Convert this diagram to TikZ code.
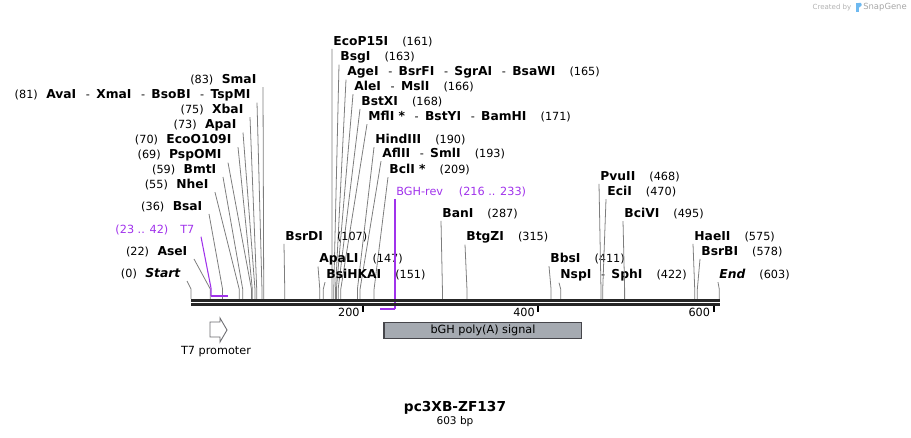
\documentclass[tikz,border=0pt]{standalone}
\usepackage{fontspec}
\setmainfont{DejaVu Sans}[ItalicFont={DejaVu Sans Oblique},BoldFont={DejaVu Sans Bold},BoldItalicFont={DejaVu Sans Bold Oblique}]
\definecolor{primerpurple}{RGB}{160,50,235}
\definecolor{sitegray}{RGB}{125,125,125}
\definecolor{featfill}{RGB}{165,170,177}
\definecolor{featedge}{RGB}{70,70,75}
\definecolor{logoblue}{RGB}{110,185,240}
\newcommand{\enzfont}{\fontsize{6.4}{8}\selectfont}
\newcommand{\enz}[1]{{\fontsize{7}{8}\selectfont\bfseries #1}}
\newcommand{\numgap}{\hspace{8pt}}
\newcommand{\lgap}{\hspace{4.8pt}}
\newcommand{\orsep}{\hspace{5.5pt}-\hspace{3.6pt}}
\tikzset{
  leftsite/.style={anchor=east, font=\enzfont, inner xsep=3.6pt, inner ysep=0.8pt},
  rightsite/.style={anchor=west, font=\enzfont, inner xsep=0.6pt, inner ysep=0.8pt},
  cutline/.style={sitegray, line width=0.45pt},
  primerline/.style={primerpurple, line width=0.6pt},
  primerbar/.style={primerpurple, line width=1.2pt},
  backbone/.style={line width=1.4pt, black!85},
  ticklbl/.style={font=\enzfont, anchor=east, inner sep=1pt},
}
\begin{document}
\begin{tikzpicture}[x=0.02cm, y=-0.02cm]
  \useasboundingbox (0,0) rectangle (911,438);
  % sites on the sequence: x = 191 + 0.876*bp
  \foreach \bp in {0,22,36,55,59,69,70,73,75,81,83,107,147,151,161,163,165,166,168,171,190,193,209,287,315,411,422,468,470,495,575,578,603} {
    \coordinate (s\bp) at ({191+0.876*\bp},299);
    \coordinate (k\bp) at ({191+0.876*\bp},289);
  }
  % enzymes left of the sequence start
  \foreach \bp/\lx/\ly/\txt in {
      83/263/80/{(83)\lgap\enz{SmaI}},
      81/257/95/{(81)\lgap\enz{AvaI}\orsep\enz{XmaI}\orsep\enz{BsoBI}\orsep\enz{TspMI}},
      75/250/110/{(75)\lgap\enz{XbaI}},
      73/243/125/{(73)\lgap\enz{ApaI}},
      70/238/140/{(70)\lgap\enz{EcoO109I}},
      69/228/155/{(69)\lgap\enz{PspOMI}},
      59/223/170/{(59)\lgap\enz{BmtI}},
      55/215/185/{(55)\lgap\enz{NheI}},
      36/209/207/{(36)\lgap\enz{BsaI}},
      22/194/252/{(22)\lgap\enz{AseI}},
      0/187/274/{(0)\lgap\enz{\itshape Start}}} {
    \node[leftsite] (e\bp) at (\lx,\ly) {\txt};
    \draw[cutline] (e\bp.south east) -- (k\bp) -- (s\bp);
  }
  % enzymes labelled to the right
  \foreach \bp/\lx/\ly/\txt in {
      161/332/42/{\enz{EcoP15I}\numgap(161)},
      163/339/57/{\enz{BsgI}\numgap(163)},
      165/346/72/{\enz{AgeI}\orsep\enz{BsrFI}\orsep\enz{SgrAI}\orsep\enz{BsaWI}\numgap(165)},
      166/353/87/{\enz{AleI}\orsep\enz{MslI}\numgap(166)},
      168/360/102/{\enz{BstXI}\numgap(168)},
      171/367/117/{\enz{MflI *}\orsep\enz{BstYI}\orsep\enz{BamHI}\numgap(171)},
      190/374/140/{\enz{HindIII}\numgap(190)},
      193/381/154/{\enz{AflII}\orsep\enz{SmlI}\numgap(193)},
      209/388/170/{\enz{BclI *}\numgap(209)},
      287/441/214/{\enz{BanI}\numgap(287)},
      107/284/237/{\enz{BsrDI}\numgap(107)},
      315/465/237/{\enz{BtgZI}\numgap(315)},
      147/318/259/{\enz{ApaLI}\numgap(147)},
      151/325/275/{\enz{BsiHKAI}\numgap(151)},
      411/549/259/{\enz{BbsI}\numgap(411)},
      422/559/275/{\enz{NspI}\orsep\enz{SphI}\numgap(422)},
      468/599/177/{\enz{PvuII}\numgap(468)},
      470/606/192/{\enz{EciI}\numgap(470)},
      495/623/214/{\enz{BciVI}\numgap(495)},
      575/693/237/{\enz{HaeII}\numgap(575)},
      578/700/252/{\enz{BsrBI}\numgap(578)},
      603/718/275/{\enz{\itshape End}\numgap(603)}} {
    \node[rightsite] (e\bp) at (\lx,\ly) {\txt};
    \draw[cutline] (e\bp.south west) -- (k\bp) -- (s\bp);
  }
  % primers
  \coordinate (t7a) at (211,296);
  \coordinate (t7k) at (211,288);
  \coordinate (t7b) at (228,296);
  \node[leftsite, primerpurple] (t7) at (201,230) {(23 .. 42)\lgap\hspace{2pt}T7};
  \draw[primerline] (t7.south east) -- (t7k) -- (t7a);
  \draw[primerbar] (t7a) -- (t7b);
  \coordinate (bgha) at (395,309);
  \coordinate (bghb) at (380,309);
  \node[rightsite, primerpurple] (bghrev) at (395,192) {BGH-rev\hspace{9pt}(216 .. 233)};
  \draw[primerline] (bghrev.south west) -- (bgha);
  \draw[primerbar] (bgha) -- (bghb);
  % sequence
  \draw[backbone] (191,300.6) -- (719.5,300.6);
  \draw[backbone] (191,304.6) -- (719.5,304.6);
  \foreach \t in {200,400,600} {
    \draw[line width=1.1pt] ({188+0.876*\t},306) -- ++(0,6.5);
    \node[ticklbl] (tick\t) at ({186.5+0.876*\t},312) {\t};
  }
  % features
  \draw[featedge!80, fill=white, line width=0.5pt]
    (210,322) -- (220,322) -- (220,318) -- (227,330) -- (220,342) -- (220,337) -- (210,337) -- cycle;
  \node[font=\enzfont] (t7prom) at (216,352) {T7 promoter};
  \draw[featedge, fill=featfill, line width=0.6pt] (384,322.3) rectangle (581.7,338.3);
  \node[font=\enzfont] (bgh) at (483,330.3) {bGH poly(A) signal};
  % title
  \node[font=\fontsize{7.8}{9}\selectfont\bfseries] (title) at (455,408) {pc3XB-ZF137};
  \node[font=\fontsize{6}{7}\selectfont] (bplen) at (455,422) {603 bp};
  % watermark
  \node[font=\fontsize{4}{5}\selectfont, black!30] (created) at (832,7.5) {Created by};
  \fill[logoblue] (856,3) rectangle (858.5,12);
  \fill[logoblue] (858.5,3) -- (861,3) .. controls (862.5,5) .. (858.5,8) -- cycle;
  \node[font=\fontsize{4.8}{6}\selectfont, black!35] (snapgene) at (885,7) {SnapGene};
\end{tikzpicture}
\end{document}
